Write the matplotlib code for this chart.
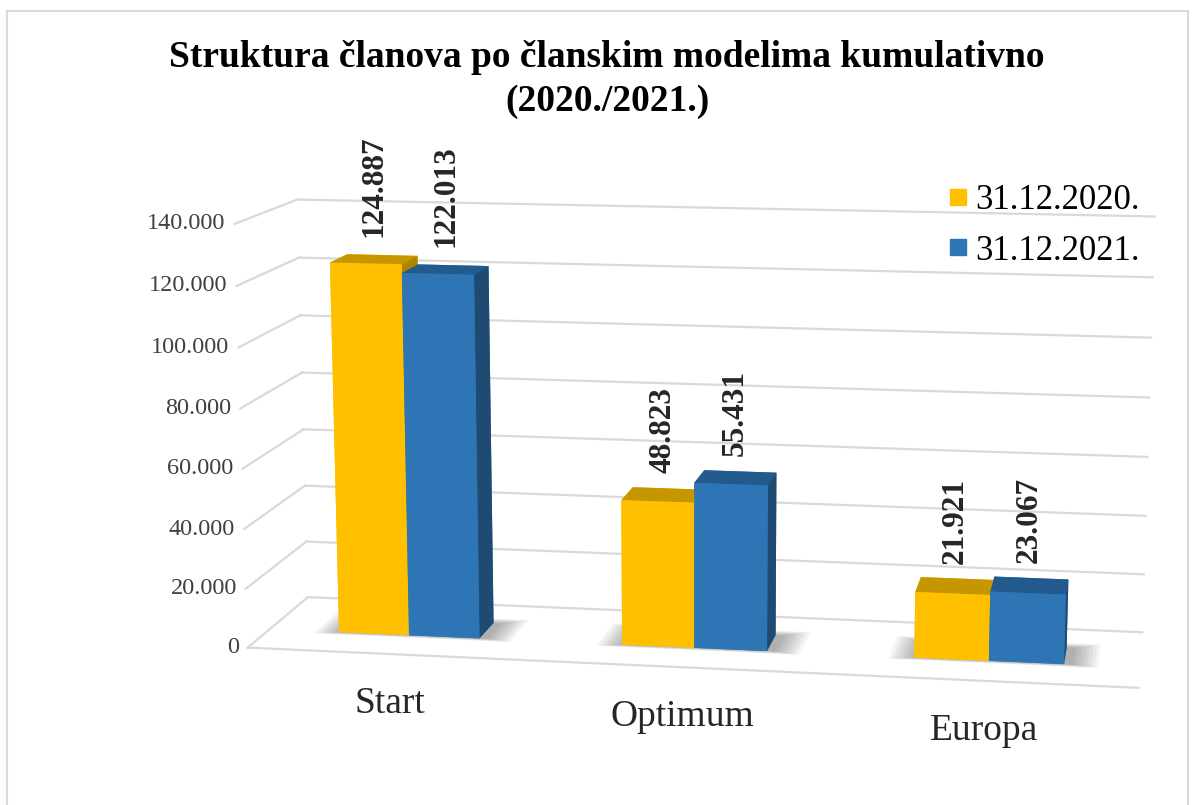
import matplotlib.pyplot as plt
from matplotlib.lines import Line2D
from matplotlib.patches import Rectangle
from mpl_toolkits.mplot3d.art3d import Poly3DCollection
from mpl_toolkits.mplot3d import proj3d

plt.rcParams['font.family'] = ['Liberation Serif', 'DejaVu Serif']

# podaci
categories = ['Start', 'Optimum', 'Europa']
series_names = ['31.12.2020.', '31.12.2021.']
values_2020 = [124887, 48823, 21921]
values_2021 = [122013, 55431, 23067]
value_labels_2020 = ['124.887', '48.823', '21.921']
value_labels_2021 = ['122.013', '55.431', '23.067']
yticks = [0, 20000, 40000, 60000, 80000, 100000, 120000, 140000]
ytick_labels = ['0', '20.000', '40.000', '60.000', '80.000', '100.000', '120.000', '140.000']

# boje (lice, vrh, desna strana)
yellow = ['#FFC000', '#C69600', '#B08500']
blue = ['#2E75B6', '#235A8D', '#1F4B73']
grid_col = '#D9D9D9'

fig = plt.figure(figsize=(11.95, 8.05), dpi=100)
ax = fig.add_axes([0.152, 0.0, 0.85, 0.9], projection='3d', computed_zorder=False)
ax.set_proj_type('persp', focal_length=0.75)
ax.view_init(elev=11.2, azim=-80.6)
ax.set_box_aspect((3, 0.7, 1.45), zoom=1.346)
ax.set_axis_off()

zmax = yticks[-1]
ax.set_xlim(0, 3)
ax.set_ylim(0, 1)
ax.set_zlim(0, zmax)


def proj(x, y, z):
    # 3D točka -> 2D koordinate osi
    px, py, _ = proj3d.proj_transform(x, y, z, ax.get_proj())
    return px, py


# mreža na zidovima
for t in yticks:
    ax.plot([0, 3], [1, 1], [t, t], color=grid_col, lw=1.6, zorder=1, clip_on=False)
    ax.plot([0, 0], [0, 1], [t, t], color=grid_col, lw=1.6, zorder=1, clip_on=False)
ax.plot([0, 3], [0, 0], [0, 0], color=grid_col, lw=1.6, zorder=1, clip_on=False)

# stupci
w = 0.25
depth = 0.3
y0 = 0.35
xs, ys, dz, cols = [], [], [], []
for i in range(len(categories)):
    c = i + 0.5
    for xpos, v, pal in [(c - w, values_2020[i], yellow), (c, values_2021[i], blue)]:
        xs.append(xpos)
        ys.append(y0)
        dz.append(v)
        # bottom, top, front, back, left, right
        cols += [pal[0], pal[1], pal[0], pal[0], pal[0], pal[2]]

# sjene na podu
for i in range(len(categories)):
    c = i + 0.5
    for k in range(8):
        e = 0.012 * k
        verts = [[(c - w - e, y0 - e * 0.5, 0), (c + w + e + 0.03, y0 - e * 0.5, 0),
                  (c + w + e + 0.03, y0 + depth + e, 0), (c - w - e, y0 + depth + e, 0)]]
        ax.add_collection3d(Poly3DCollection(verts, facecolor='#000000', alpha=0.045,
                                             edgecolor='none', zorder=2, clip_on=False))

ax.bar3d(xs, ys, [0] * len(xs), [w] * len(xs), [depth] * len(xs), dz,
         color=cols, shade=False, edgecolor=None, linewidth=0, zorder=3, clip_on=False)

fig.canvas.draw()

# oznake osi
for t, lab in zip(yticks, ytick_labels):
    ax.annotate(lab, proj(0, 0, t), xytext=(-9, 0), textcoords='offset pixels',
                ha='right', va='center', fontsize=17.5, color='#404040', zorder=6,
                annotation_clip=False)

# oznake vrijednosti i kategorija
for i in range(len(categories)):
    c = i + 0.5
    ax.annotate(value_labels_2020[i], proj(c - w / 2, y0 + depth / 2, values_2020[i]),
                xytext=(0, 22), textcoords='offset pixels', rotation=90,
                ha='center', va='bottom', fontsize=22.5, fontweight='bold',
                color='#262626', zorder=7, annotation_clip=False)
    ax.annotate(value_labels_2021[i], proj(c + w / 2, y0 + depth / 2, values_2021[i]),
                xytext=(0, 22), textcoords='offset pixels', rotation=90,
                ha='center', va='bottom', fontsize=22.5, fontweight='bold',
                color='#262626', zorder=7, annotation_clip=False)
    ax.annotate(categories[i], proj(c, 0, 0), xytext=(0, -50), textcoords='offset pixels',
                ha='center', va='center', fontsize=27, color='#262626', zorder=7,
                annotation_clip=False)

# naslov
fig.text(0.508, 0.929, 'Struktura članova po članskim modelima kumulativno',
         ha='center', va='center', fontsize=27, fontweight='bold')
fig.text(0.508, 0.874, '(2020./2021.)', ha='center', va='center', fontsize=27,
         fontweight='bold')

# legenda
handles = [Line2D([], [], marker='s', ls='none', markersize=12, color=yellow[0]),
           Line2D([], [], marker='s', ls='none', markersize=12, color=blue[0])]
fig.legend(handles, series_names, loc='upper right', bbox_to_anchor=(0.98, 0.81),
           frameon=False, fontsize=25, handletextpad=0.1, labelspacing=0.5,
           handlelength=0.8)

# okvir
fig.add_artist(Rectangle((7 / 1195, -0.05), 1181 / 1195, 1.05 - 11 / 805,
                         transform=fig.transFigure, fill=False, edgecolor='#D9D9D9', lw=1.5))

fig.savefig('out.png', dpi=100)
